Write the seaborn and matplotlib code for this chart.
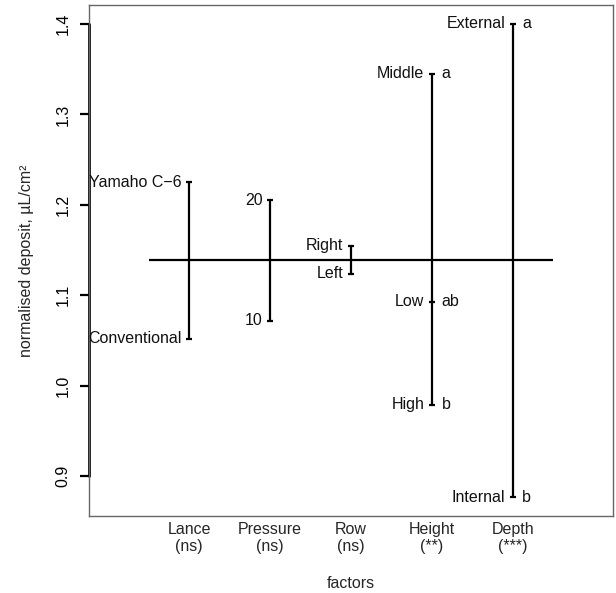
import pandas as pd
import numpy as np
import matplotlib
matplotlib.use('Agg')
import matplotlib.pyplot as plt
import seaborn as sns

# factor names and significance
factors = ["Lance", "Pressure", "Row", "Height", "Depth"]
significance = ["ns", "ns", "ns", "**", "***"]

# level means per factor
lance_levels = ["Yamaho C\u22126", "Conventional"]
lance_means = [1.225, 1.052]
lance_letters = ["", ""]

pressure_levels = ["20", "10"]
pressure_means = [1.205, 1.072]
pressure_letters = ["", ""]

row_levels = ["Right", "Left"]
row_means = [1.155, 1.124]
row_letters = ["", ""]

height_levels = ["Middle", "Low", "High"]
height_means = [1.345, 1.093, 0.979]
height_letters = ["a", "ab", "b"]

depth_levels = ["External", "Internal"]
depth_means = [1.400, 0.877]
depth_letters = ["a", "b"]

grand_mean = 1.139
y_ticks = [0.9, 1.0, 1.1, 1.2, 1.3, 1.4]

# build a long table
groups = [
    (lance_levels, lance_means, lance_letters),
    (pressure_levels, pressure_means, pressure_letters),
    (row_levels, row_means, row_letters),
    (height_levels, height_means, height_letters),
    (depth_levels, depth_means, depth_letters),
]
rows = []
for i, (levels, means, letters) in enumerate(groups):
    for lev, m, let in zip(levels, means, letters):
        rows.append([factors[i], i + 1, lev, m, let])
df = pd.DataFrame(rows, columns=["factor", "pos", "level", "mean", "letter"])

sns.set_style("white")
plt.rcParams['font.family'] = ['Liberation Sans', 'DejaVu Sans']
plt.rcParams['font.size'] = 11.5
plt.rcParams['ytick.left'] = True
plt.rcParams['ytick.major.size'] = 6.5
plt.rcParams['ytick.major.width'] = 1.6
plt.rcParams['ytick.color'] = 'black'

fig = plt.figure(figsize=(6.16, 5.93), dpi=100)
ax = fig.add_axes([0.1445, 0.1298, 0.8505, 0.8618])

# vertical range line per factor
sns.lineplot(data=df, x="pos", y="mean", units="factor", estimator=None, sort=False,
             color="black", linewidth=1.6, legend=False, ax=ax)
# small tick at each level
sns.scatterplot(data=df, x="pos", y="mean", marker="_", s=22, color="black",
                linewidth=1.6, legend=False, ax=ax)

n = len(factors)
ax.hlines(grand_mean, 0.5, n + 0.5, color="black", linewidth=1.6)

# level names and letters
for _, r in df.iterrows():
    ax.annotate(r["level"], (r["pos"], r["mean"]), xytext=(-5.5, 0), textcoords="offset points",
                ha="right", va="center", fontsize=11.5, color="#111111")
    if r["letter"]:
        ax.annotate(r["letter"], (r["pos"], r["mean"]), xytext=(7, 0), textcoords="offset points",
                    ha="left", va="center", fontsize=11.5, color="#111111")

# R-like limits (4% padding)
xlo, xhi = 0 - 0.04 * (n + 1), (n + 1) + 0.04 * (n + 1)
lo, hi = df["mean"].min(), df["mean"].max()
pad = 0.04 * (hi - lo)
ax.set_xlim(xlo, xhi)
ax.set_ylim(lo - pad, hi + pad)

ax.set_xticks(range(1, n + 1))
ax.set_xticklabels([f"{f}\n({s})" for f, s in zip(factors, significance)], fontsize=11.5)
ax.set_yticks(y_ticks)
ax.set_yticklabels([f"{t:.1f}" for t in y_ticks], rotation=90, va="center", fontsize=11.5)
ax.tick_params(axis="x", length=0, pad=4)
ax.tick_params(axis="y", which="major", left=True, direction="out", length=6.5, width=1.6,
               pad=7, color="black")

for sp in ax.spines.values():
    sp.set_color("#666666")
    sp.set_linewidth(1)
# axis line spanning the ticks
ax.plot([xlo, xlo], [y_ticks[0], y_ticks[-1]], color="black", linewidth=2, clip_on=False)

ax.set_xlabel("factors", fontsize=11.5, labelpad=16)
ax.set_ylabel("normalised deposit, \u00b5L/cm\u00b2", fontsize=11.5, labelpad=15)

plt.savefig("out.png", dpi=100)
